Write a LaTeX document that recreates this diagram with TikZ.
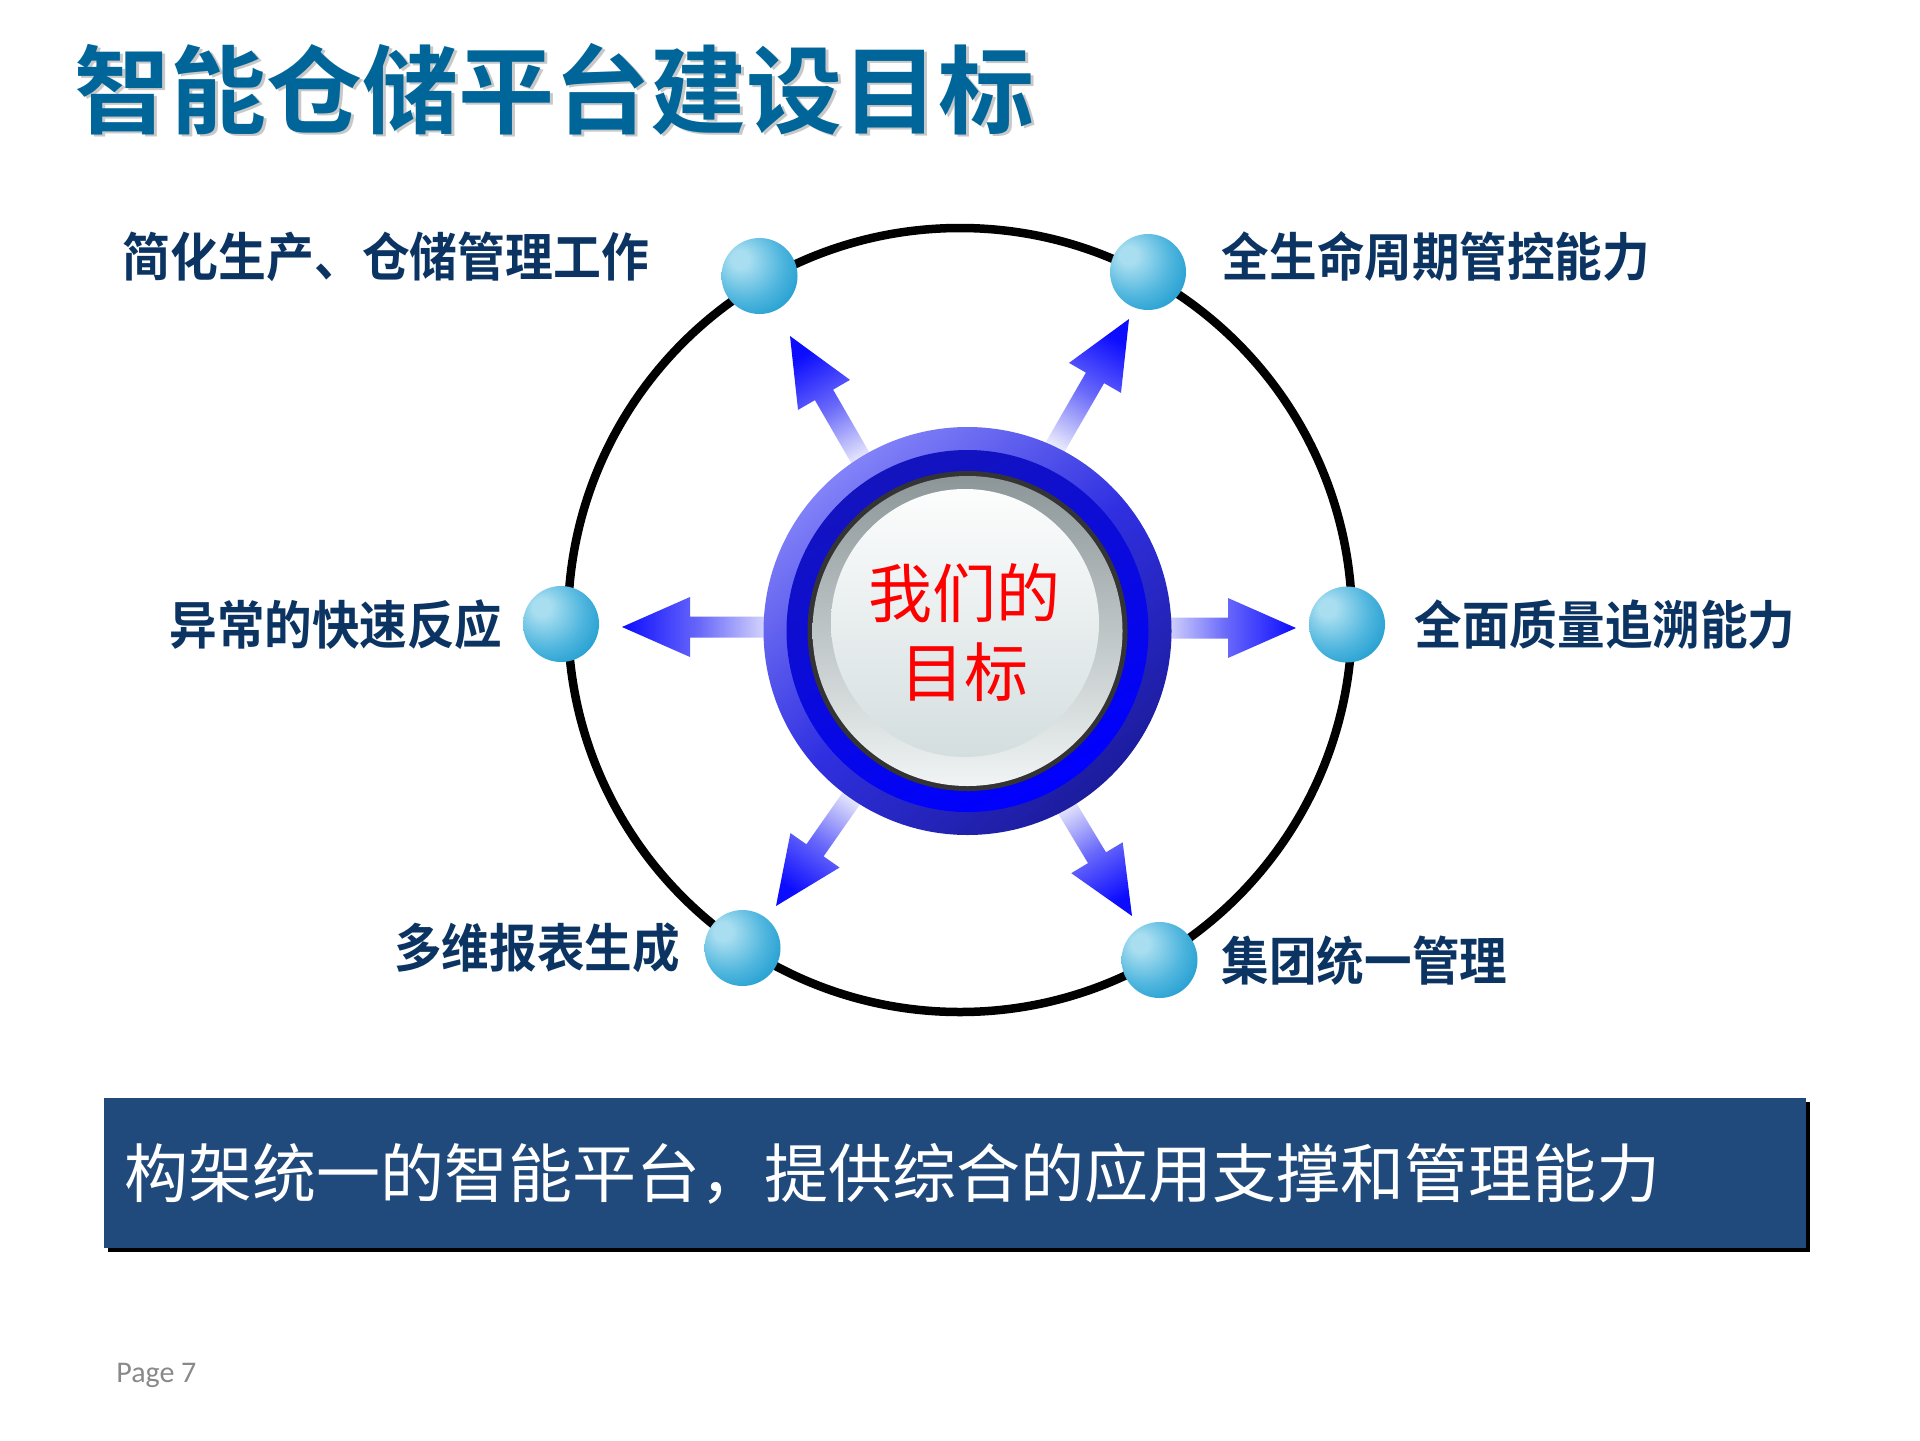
\documentclass[tikz,border=0pt]{standalone}
\usepackage{fontspec}
\usepackage{graphicx}
\usetikzlibrary{calc}
\newfontfamily\cjk{Noto Sans CJK SC}[BoldFont={Noto Sans CJK SC Bold}]
\newfontfamily\carl{Carlito}
\definecolor{titlecol}{RGB}{0,102,153}
\definecolor{titleshd}{RGB}{200,200,200}
\definecolor{lblcol}{RGB}{12,52,98}
\definecolor{sphhi}{RGB}{168,222,240}
\definecolor{sphmid}{RGB}{80,182,222}
\definecolor{sphedge}{RGB}{14,148,202}
\definecolor{arrtip}{RGB}{12,12,255}
\definecolor{arrmid}{RGB}{105,105,250}
\definecolor{arrtail}{RGB}{232,232,252}
\definecolor{ringlight}{RGB}{130,130,248}
\definecolor{ringmid}{RGB}{48,48,226}
\definecolor{ringdark}{RGB}{28,28,158}
\definecolor{bandtop}{RGB}{20,20,190}
\definecolor{bandbot}{RGB}{0,0,255}
\definecolor{rimcol}{RGB}{52,52,52}
\definecolor{beveltop}{RGB}{140,150,152}
\definecolor{bevelbot}{RGB}{240,244,244}
\definecolor{facetop}{RGB}{252,253,253}
\definecolor{facebot}{RGB}{212,222,223}
\definecolor{bannercol}{RGB}{33,74,124}
\definecolor{pagecol}{RGB}{137,137,137}
\pgfdeclareradialshading{sphshade}{\pgfpoint{-14bp}{12bp}}{color(0bp)=(sphhi); color(6bp)=(sphhi); color(24bp)=(sphmid); color(42bp)=(sphedge); color(75bp)=(sphedge)}
\tikzset{
  lbl/.style={font=\cjk\bfseries\fontsize{26pt}{30pt}\selectfont, text=lblcol, inner sep=0pt},
  sphere/.style={circle, minimum size=38pt, inner sep=0pt, shade, shading=sphshade},
  arrowfill/.style={top color=arrtip, bottom color=arrtail, middle color=arrmid, draw=none},
  arrowbody/.style={insert path={(0,0) -- (-68,30) -- (-68,10.5) -- (-#1,10.5) -- (-#1,-10.5) -- (-68,-10.5) -- (-68,-30) -- cycle}},
  disk/.style={circle, inner sep=0pt, draw=none},
}
\begin{document}
\begin{tikzpicture}[x=0.5pt, y=-0.5pt]
\fill[white] (0,0) rectangle (1920,1440);
\useasboundingbox (0,0) rectangle (1920,1440);

% title
\node[font=\cjk\bfseries\fontsize{48pt}{52pt}\selectfont, text=titleshd, inner sep=0pt] (titleshadow) at (557,91.5) {智能仓储平台建设目标};
\node[font=\cjk\bfseries\fontsize{48pt}{52pt}\selectfont, text=titlecol, inner sep=0pt] (title) at (554.5,89) {智能仓储平台建设目标};

% orbit
\node[disk, draw=black, line width=4.25pt, minimum size=392pt] (orbit) at (960,620) {};

% arrows (behind the centre)
\coordinate (tUL) at (790,336);
\coordinate (tUR) at (1129,319);
\coordinate (tL) at (622,627);
\coordinate (tR) at (1296,628);
\coordinate (tDL) at (776,906);
\coordinate (tDR) at (1132,916);
\begin{scope}[shift={(tUL)}, rotate=120]
  \path[arrowfill, shading angle=30, arrowbody=155];
\end{scope}
\begin{scope}[shift={(tUR)}, rotate=60]
  \path[arrowfill, shading angle=-30, arrowbody=160];
\end{scope}
\begin{scope}[shift={(tL)}, rotate=180]
  \path[arrowfill, shading angle=90, arrowbody=155];
\end{scope}
\begin{scope}[shift={(tR)}, rotate=0]
  \path[arrowfill, shading angle=-90, arrowbody=140];
\end{scope}
\begin{scope}[shift={(tDL)}, rotate=235]
  \path[arrowfill, shading angle=145, arrowbody=145];
\end{scope}
\begin{scope}[shift={(tDR)}, rotate=-59]
  \path[arrowfill, shading angle=-149, arrowbody=140];
\end{scope}

% centre button
\node[disk, minimum size=204pt, top color=ringlight, bottom color=ringdark, middle color=ringmid, shading angle=40] (core) at (967.5,631) {};
\node[disk, minimum size=181pt, top color=bandtop, bottom color=bandbot, shading angle=25] (band) at (core) {};
\node[disk, minimum size=160pt, fill=rimcol] (rim) at (core) {};
\node[disk, minimum size=155pt, top color=beveltop, bottom color=bevelbot] (bevel) at (core) {};
\node[disk, minimum size=134pt, top color=facetop, bottom color=facebot] (face) at (965,623) {};
\node[font=\cjk\fontsize{32pt}{39.5pt}\selectfont, text=red, align=center, inner sep=0pt] (goal) at (964,633) {我们的\\目标};

% spheres
\node[sphere] (sUL) at (759.5,276) {};
\node[sphere] (sUR) at (1148,272) {};
\node[sphere] (sL) at (561,624) {};
\node[sphere] (sR) at (1347,624.5) {};
\node[sphere] (sDL) at (742.5,948) {};
\node[sphere] (sDR) at (1159.5,960) {};

% labels
\node[lbl] (lUL) at (386,256.5) {\scalebox{0.92}[1]{简化生产、仓储管理工作}};
\node[lbl] (lUR) at (1436,256.5) {\scalebox{0.915}[1]{全生命周期管控能力}};
\node[lbl] (lL) at (336,625) {\scalebox{0.915}[1]{异常的快速反应}};
\node[lbl] (lR) at (1605,624.5) {\scalebox{0.915}[1]{全面质量追溯能力}};
\node[lbl] (lDL) at (537,948) {\scalebox{0.915}[1]{多维报表生成}};
\node[lbl] (lDR) at (1364.5,960.5) {\scalebox{0.915}[1]{集团统一管理}};

% banner
\fill[black] (107.5,1101.5) rectangle (1809.5,1252);
\node[rectangle, fill=bannercol, inner sep=0pt, minimum width=851pt, minimum height=75pt] (banner) at (955,1173) {};
\node[font=\cjk\fontsize{32pt}{36pt}\selectfont, text=white, anchor=west, inner sep=0pt] (bannertext) at (124,1174) {构架统一的智能平台，提供综合的应用支撑和管理能力};

% page number
\node[font=\carl\fontsize{15pt}{18pt}\selectfont, text=pagecol, anchor=base west, inner sep=0pt] (page) at (116,1382) {Page 7};
\end{tikzpicture}
\end{document}
